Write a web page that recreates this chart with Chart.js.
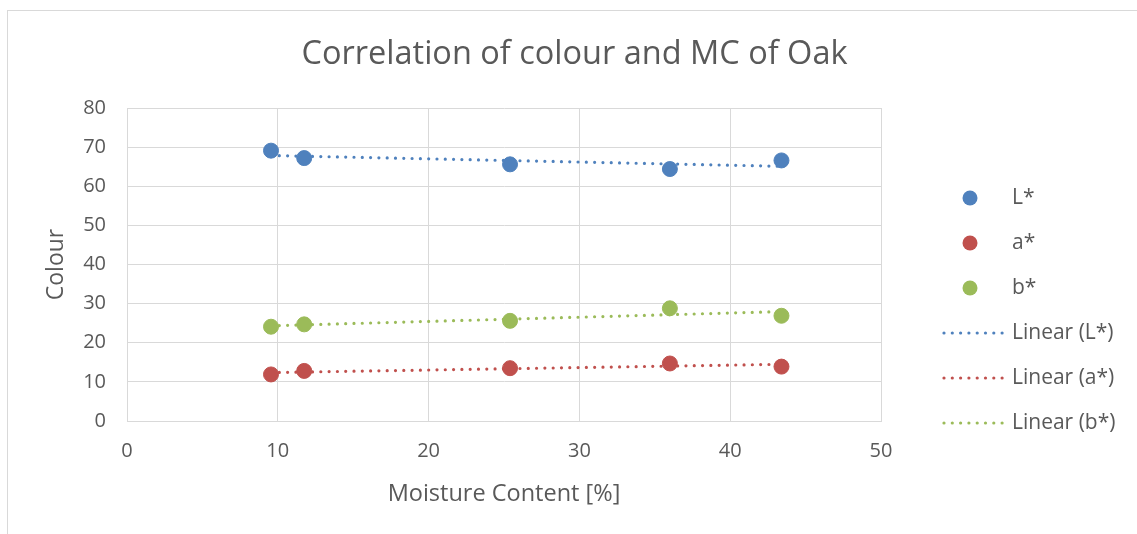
<!DOCTYPE html>
<html>
<head>
<meta charset="utf-8">
<script src="https://cdn.jsdelivr.net/npm/chart.js@4"></script>
<style>
    body { margin: 0; background: #fff; }
    .chart-wrap { position: relative; width: 1137px; height: 534px; overflow: hidden; }
    .chart-frame {
        position: absolute; left: 7px; top: 10px; width: 1140px; height: 540px;
        border: 1px solid #d9d9d9; box-sizing: border-box; pointer-events: none;
    }
    canvas { position: absolute; left: 0; top: 0; }
</style>
</head>
<body>
<div class="chart-wrap">
    <div class="chart-frame"></div>
    <canvas id="oakChart" width="1137" height="534"></canvas>
</div>
<script>
// moisture content of the samples [%]
const moisture = [9.55, 11.75, 25.4, 36.0, 43.4];
// CIELAB readings per sample
const lightness = [69.1, 67.2, 65.6, 64.4, 66.6];
const aStar = [11.9, 12.8, 13.5, 14.7, 13.9];
const bStar = [24.1, 24.7, 25.6, 28.8, 26.9];
const seriesNames = ["L*", "a*", "b*"];
const xTicks = [0, 10, 20, 30, 40, 50];
const yTicks = [0, 10, 20, 30, 40, 50, 60, 70, 80];

const colours = ["#4f81bd", "#c0504d", "#9bbb59"];
const textColor = "#595959";
const gridColor = "#d9d9d9";
const fontFamily = "'Open Sans', sans-serif";

const toPoints = (ys) => moisture.map((x, i) => ({ x: x, y: ys[i] }));

// least squares fit, drawn across the measured range like a spreadsheet trendline
const linearFit = (ys) => {
    const n = moisture.length;
    const mx = moisture.reduce((s, v) => s + v, 0) / n;
    const my = ys.reduce((s, v) => s + v, 0) / n;
    let sxy = 0, sxx = 0;
    moisture.forEach((x, i) => {
        sxy += (x - mx) * (ys[i] - my);
        sxx += (x - mx) * (x - mx);
    });
    const slope = sxy / sxx;
    const x0 = Math.min(...moisture);
    const x1 = Math.max(...moisture);
    return [
        { x: x0, y: my + slope * (x0 - mx) },
        { x: x1, y: my + slope * (x1 - mx) },
    ];
};

const allSeries = [lightness, aStar, bStar];

const markerSets = allSeries.map((ys, i) => ({
    label: seriesNames[i],
    data: toPoints(ys),
    backgroundColor: colours[i],
    borderColor: colours[i],
    pointRadius: 7.5,
    pointHoverRadius: 7.5,
    order: 1,
}));

const trendSets = allSeries.map((ys, i) => ({
    label: "Linear (" + seriesNames[i] + ")",
    data: linearFit(ys),
    showLine: true,
    borderColor: colours[i],
    borderWidth: 3.2,
    borderDash: [0, 8.3],
    borderCapStyle: "round",
    pointRadius: 0,
    fill: false,
    order: 2,
}));

// legend on the right: markers first, then dotted trendline keys
const sideLegend = {
    id: "sideLegend",
    afterDraw(chart) {
        const ctx = chart.ctx;
        const rowTop = 198;
        const rowGap = 45;
        const textX = 1012;
        ctx.save();
        ctx.font = "21px " + fontFamily;
        ctx.textBaseline = "middle";
        ctx.textAlign = "left";
        chart.data.datasets.forEach((ds, i) => {
            const y = rowTop + i * rowGap;
            if (ds.showLine) {
                ctx.fillStyle = ds.borderColor;
                for (let k = 0; k < 8; k++) {
                    ctx.beginPath();
                    ctx.arc(944 + k * 8.3, y, 1.6, 0, Math.PI * 2);
                    ctx.fill();
                }
            } else {
                ctx.fillStyle = ds.backgroundColor;
                ctx.beginPath();
                ctx.arc(970, y, 7.5, 0, Math.PI * 2);
                ctx.fill();
            }
            ctx.fillStyle = textColor;
            ctx.fillText(ds.label, textX, y);
        });
        ctx.restore();
    },
};

const ctx = document.getElementById("oakChart").getContext("2d");

window.oakChart = new Chart(ctx, {
    type: "scatter",
    data: { datasets: [...markerSets, ...trendSets] },
    plugins: [sideLegend],
    options: {
        responsive: false,
        animation: false,
        layout: { padding: { left: 12 } },
        scales: {
            x: {
                type: "linear",
                min: xTicks[0],
                max: xTicks[xTicks.length - 1],
                afterBuildTicks: (scale) => { scale.ticks = xTicks.map((v) => ({ value: v })); },
                afterFit: (scale) => { scale.height = 113; },
                grid: { color: gridColor, drawTicks: false },
                border: { color: gridColor },
                ticks: { color: textColor, padding: 18, font: { size: 20, family: fontFamily } },
                title: {
                    display: true,
                    text: "Moisture Content [%]",
                    color: textColor,
                    font: { size: 23.5, family: fontFamily },
                    padding: { top: 0, bottom: 26 },
                },
            },
            y: {
                min: yTicks[0],
                max: yTicks[yTicks.length - 1],
                afterBuildTicks: (scale) => { scale.ticks = yTicks.map((v) => ({ value: v })); },
                afterFit: (scale) => { scale.width = 115; },
                grid: { color: gridColor, drawTicks: false },
                border: { color: gridColor },
                ticks: { color: textColor, padding: 21, font: { size: 20, family: fontFamily } },
                title: {
                    display: true,
                    text: "Colour",
                    color: textColor,
                    font: { size: 23, family: fontFamily },
                    padding: { top: 31, bottom: 0 },
                },
            },
            // empty right-hand box that keeps room for the legend
            legendSpace: {
                type: "linear",
                position: "right",
                display: true,
                grid: { display: false },
                border: { display: false },
                ticks: { display: false },
                afterFit: (scale) => { scale.width = 256; },
            },
        },
        plugins: {
            legend: { display: false },
            tooltip: { enabled: false },
            title: {
                display: true,
                text: "Correlation of colour and MC of Oak",
                color: textColor,
                font: { size: 32.5, family: fontFamily, weight: "normal" },
                padding: { top: 35.5, bottom: 33.5 },
            },
        },
    },
});
</script>
</body>
</html>
